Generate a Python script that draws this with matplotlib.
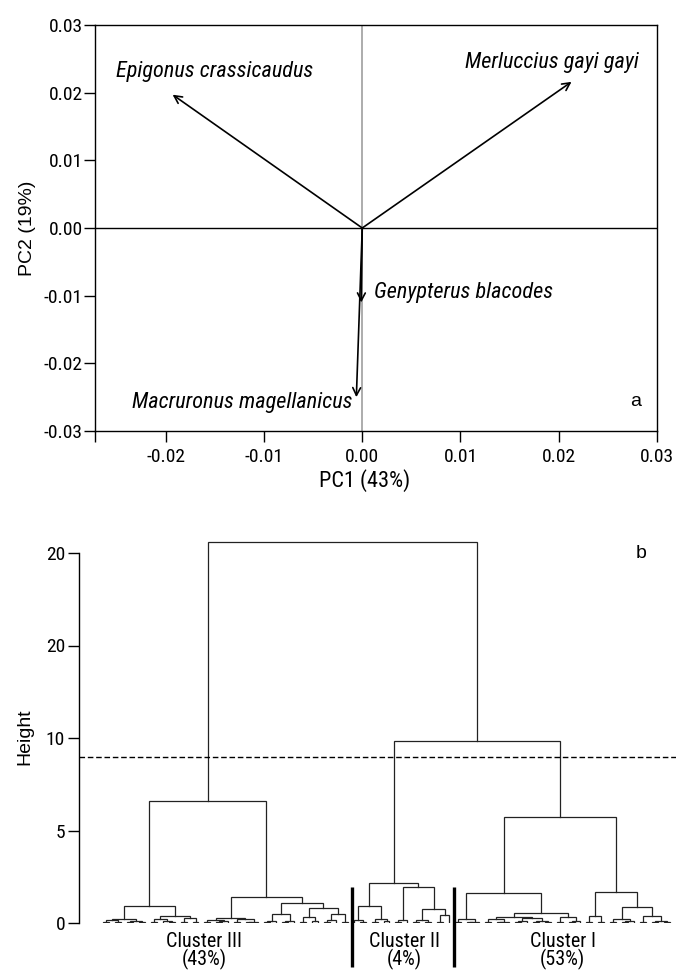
import matplotlib
matplotlib.use('Agg')
import matplotlib.pyplot as plt

NARROW = ['Roboto Condensed', 'Liberation Sans', 'DejaVu Sans']
REGULAR = ['Liberation Sans', 'DejaVu Sans']
plt.rcParams['font.family'] = NARROW

# --- panel a: PCA loadings ---
species = ['Epigonus crassicaudus', 'Merluccius gayi gayi',
           'Genypterus blacodes', 'Macruronus magellanicus']
pc1 = [-0.0193, 0.0213, -0.0001, -0.0006]
pc2 = [0.0197, 0.0216, -0.0110, -0.0250]
pc1_label = 'PC1 (43%)'
pc2_label = 'PC2 (19%)'

# --- panel b: dendrogram, written as small newick-like strings ('x' = one station) ---
iii_a1 = "(((x,x):0.05,(x,x):0.08):0.15,((x,x):0.06,(x,x):0.04):0.12):0.2"
iii_a2 = "(((x,x):0.06,(x,(x,x):0.05):0.1):0.2,((x,x):0.08,(x,x):0.06):0.28):0.37"
iii_b1 = "(((x,x):0.05,((x,x):0.04,x):0.1):0.15,((x,x):0.07,((x,x):0.04,x):0.08):0.2):0.27"
iii_b2 = ("((((x,x):0.05,x):0.1,((x,x):0.06,x):0.12):0.5,"
          "(((x,x):0.06,(x,x):0.1):0.3,(((x,x):0.05,x):0.15,(x,x):0.08):0.5):0.8):1.08")
ii_a = "((x,(x,x):0.05):0.15,((x,x):0.06,(x,x):0.1):0.2):0.92"
ii_b = "(((x,x):0.05,x):0.15,(((x,x):0.05,(x,x):0.08):0.15,((x,x):0.06,x):0.43):0.76):1.95"
i_a1 = "((x,x):0.05,((x,x):0.04,x):0.08):0.22"
i_a2 = ("((((x,x):0.04,((x,x):0.05,x):0.08):0.2,(((x,x):0.06,x):0.1,((x,x):0.04,(x,x):0.05):0.12):0.25):0.32,"
        "((x,x):0.05,((x,x):0.06,x):0.1):0.3):0.53")
i_b1 = "((x,x):0.06,(x,x):0.08):0.4"
i_b2 = "(((x,x):0.05,((x,x):0.04,x):0.1):0.2,((x,x):0.06,((x,x):0.05,(x,x):0.07):0.1):0.4):0.85"

cluster_iii = f"(({iii_a1},{iii_a2}):0.92,({iii_b1},{iii_b2}):1.4):6.6"
cluster_ii = f"({ii_a},{ii_b}):2.16"
cluster_i = f"(({i_a1},{i_a2}):1.6,({i_b1},{i_b2}):1.68):5.73"
tree = f"({cluster_iii},({cluster_ii},{cluster_i}):9.84):20.6"

cut_height = 9.0
cluster_names = ['Cluster III\n(43%)', 'Cluster II\n(4%)', 'Cluster I\n(53%)']
height_ticks = [0, 5, 10, 15, 20]
height_ticklabels = ['0', '5', '10', '20', '20']


def parse(s):
    s = s.replace(' ', '')
    pos = 0

    def node():
        nonlocal pos
        if s[pos] == 'x':
            pos += 1
            return None
        pos += 1
        left = node()
        pos += 1
        right = node()
        pos += 2
        j = pos
        while pos < len(s) and (s[pos].isdigit() or s[pos] == '.'):
            pos += 1
        return (left, right, float(s[j:pos]))
    return node()


def count_leaves(n):
    if n is None:
        return 1
    return count_leaves(n[0]) + count_leaves(n[1])


leaf_counter = [0]


def draw(ax, n):
    if n is None:
        x = leaf_counter[0]
        leaf_counter[0] += 1
        return x, 0.0
    lx, lh = draw(ax, n[0])
    rx, rh = draw(ax, n[1])
    h = n[2]
    ax.plot([lx, lx, rx, rx], [lh, h, h, rh], color='#222222', lw=0.9,
            solid_joinstyle='miter')
    return (lx + rx) / 2, h


fig = plt.figure(figsize=(6.76, 9.73), dpi=100)

# ---------------- panel a ----------------
ax1 = fig.add_axes([95 / 676, 1 - 431 / 973, 562 / 676, 406 / 973])
ax1.set_xlim(-0.0272, 0.03)
ax1.set_ylim(-0.03, 0.03)
ax1.axvline(0, color='#a6a6a6', lw=1.3, zorder=1)
ax1.axhline(0, color='black', lw=1.0, zorder=1)

for x, y in zip(pc1, pc2):
    ax1.annotate('', xy=(x, y), xytext=(0, 0),
                 arrowprops=dict(arrowstyle='->,head_length=0.55,head_width=0.28',
                                 lw=1.2, color='black', shrinkA=0, shrinkB=0))

lab_x = [-0.0251, 0.0282, 0.0012, -0.0010]
lab_y = [0.0231, 0.0245, -0.0095, -0.0258]
lab_ha = ['left', 'right', 'left', 'right']
for name, x, y, ha in zip(species, lab_x, lab_y, lab_ha):
    ax1.text(x, y, name, ha=ha, va='center', fontsize=16, style='italic')
ax1.text(0.0278, -0.0256, 'a', ha='center', va='center', fontsize=14, family=REGULAR)

ax1.set_xticks([-0.0272, -0.02, -0.01, 0.0, 0.01, 0.02, 0.03])
ax1.set_xticklabels(['', '-0.02', '-0.01', '0.00', '0.01', '0.02', '0.03'])
ax1.set_yticks([-0.03, -0.02, -0.01, 0.0, 0.01, 0.02, 0.03])
ax1.set_yticklabels(['-0.03', '-0.02', '-0.01', '0.00', '0.01', '0.02', '0.03'])
ax1.tick_params(direction='out', length=8, width=1, labelsize=14)
ax1.tick_params(axis='y', pad=1)
ax1.tick_params(axis='x', pad=4)
for sp in ax1.spines.values():
    sp.set_linewidth(1.0)
ax1.set_xlabel(pc1_label, fontsize=16)
ax1.xaxis.set_label_coords(0.48, -0.093)
ax1.set_ylabel(pc2_label, fontsize=14, family=REGULAR)
ax1.yaxis.set_label_coords(-0.105, 0.5)

# ---------------- panel b ----------------
root = parse(tree)
n_leaves = count_leaves(root)
spacing = 567 / (n_leaves - 1)
ax2 = fig.add_axes([79 / 676, 1 - 923 / 973, 1 - 79 / 676, 388 / 973])
ax2.set_xlim(-24 / spacing, (n_leaves - 1) + 6 / spacing)
ax2.set_ylim(0, 388 / 18.5)
draw(ax2, root)
ax2.axhline(cut_height, color='black', lw=1.0, ls=(0, (4, 2)))

sizes = [count_leaves(parse(c)) for c in (cluster_iii, cluster_ii, cluster_i)]
b1 = sizes[0] - 0.5
b2 = sizes[0] + sizes[1] - 0.5
for b in (b1, b2):
    ax2.plot([b + 0.3, b + 0.3], [1.95, -2.38], color='black', lw=2.4, clip_on=False,
             solid_capstyle='butt')

label_x = [17.0, 50.5, 77.0]
for x, t in zip(label_x, cluster_names):
    ax2.text(x, -0.5, t, ha='center', va='top', fontsize=14.5, linespacing=0.85,
             clip_on=False)

ax2.text(90.1, 20.0, 'b', ha='center', va='center', fontsize=14, family=REGULAR)

for s in ('top', 'right', 'bottom'):
    ax2.spines[s].set_visible(False)
ax2.spines['left'].set_bounds(0, 20)
ax2.spines['left'].set_linewidth(1.0)
ax2.set_xticks([])
ax2.set_yticks(height_ticks)
ax2.set_yticklabels(height_ticklabels)
ax2.tick_params(axis='y', direction='out', length=8, width=1, labelsize=14, pad=2)
ax2.set_ylabel('Height', fontsize=14, family=REGULAR)
ax2.yaxis.set_label_coords(-0.077, 0.479)

fig.savefig('out.png', dpi=100)
